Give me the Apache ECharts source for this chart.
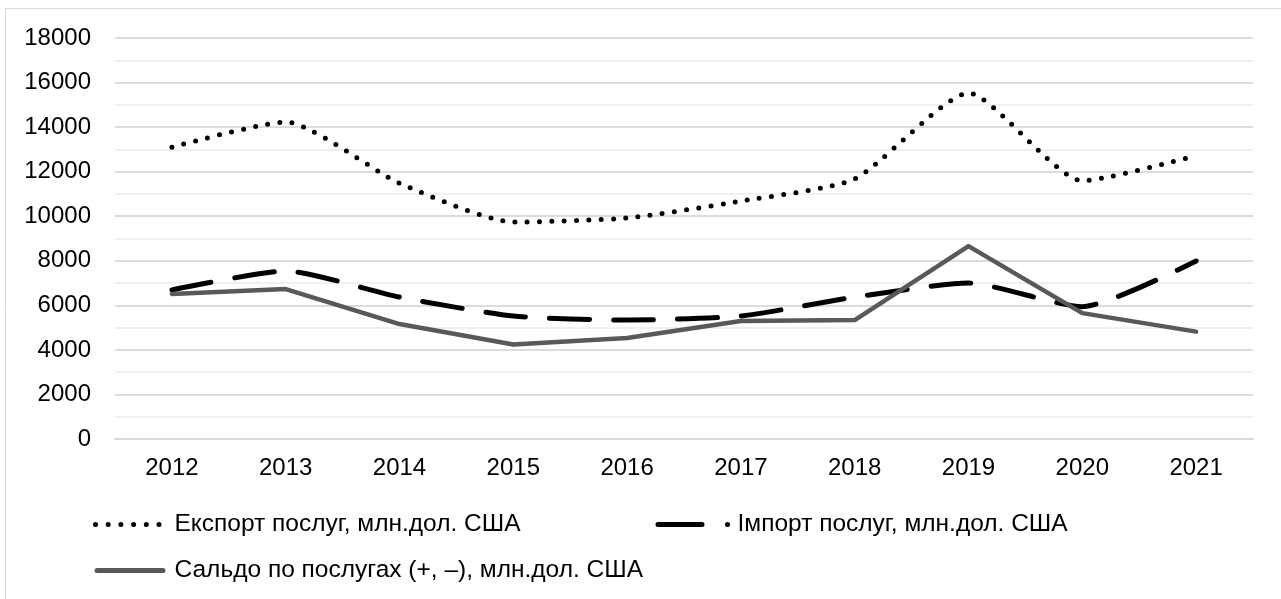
<!DOCTYPE html>
<html><head><meta charset="utf-8">
<script src="https://cdn.jsdelivr.net/npm/echarts@6/dist/echarts.min.js"></script>
<style>html,body{margin:0;padding:0;background:#fff;}#c{width:1281px;height:599px;}</style>
</head><body><div id="c"></div>
<script>
const years = ['2012','2013','2014','2015','2016','2017','2018','2019','2020','2021'];
const exportVals = [13100, 14230, 11480, 9740, 9920, 10680, 11670, 15530, 11590, 12720];
const importVals = [6690, 7540, 6370, 5520, 5340, 5520, 6370, 7000, 5940, 7990];
const saldoVals  = [6510, 6730, 5160, 4240, 4530, 5300, 5340, 8660, 5650, 4820];
const names = ['Експорт послуг, млн.дол. США','Імпорт послуг, млн.дол. США','Сальдо по послугах (+, –), млн.дол. США'];

const font = 'Liberation Sans, Arial, sans-serif';
const chart = echarts.init(document.getElementById('c'));
const legTxt = {fontFamily: font, fontSize: 24.5, color: '#000'};
const hideSym = {color: 'rgba(0,0,0,0)', borderWidth: 0, opacity: 0};
chart.setOption({
  animation: false,
  grid: {left: 115, right: 28, top: 38, bottom: 160, containLabel: false},
  graphic: [{type: 'rect', shape: {x: 5.5, y: 8.5, width: 1300, height: 620}, style: {fill: 'none', stroke: '#d9d9d9', lineWidth: 1}, silent: true}],
  xAxis: {type: 'category', data: years, boundaryGap: true,
    axisLine: {show: true, lineStyle: {color: '#d9d9d9', width: 2}}, axisTick: {show: false},
    axisLabel: {fontFamily: font, fontSize: 24, color: '#000', margin: 17}},
  yAxis: {type: 'value', min: 0, max: 18000, interval: 2000,
    axisLine: {show: false}, axisTick: {show: false},
    axisLabel: {fontFamily: font, fontSize: 24, color: '#000', margin: 24, formatter: v => String(v)},
    splitLine: {lineStyle: {color: '#dcdcdc', width: 2}},
    minorTick: {show: false, splitNumber: 2},
    minorSplitLine: {show: true, lineStyle: {color: '#f0f0f0', width: 2}}},
  legend: [
    {left: 93, top: 512, padding: 0, itemWidth: 74, itemHeight: 14, itemGap: 0, textStyle: legTxt,
      data: [{name: names[0], itemStyle: hideSym,
        lineStyle: {width: 5, color: '#000', cap: 'round', type: [0,12.7,0,12.7,0,12.7,0,12.7,0,12.7,0,60]}}]},
    {left: 655.5, top: 512, padding: 0, itemWidth: 74.5, itemHeight: 14, itemGap: 0, textStyle: legTxt,
      data: [{name: names[1], itemStyle: hideSym,
        lineStyle: {width: 5, color: '#000', cap: 'round', type: [44, 25.5, 0, 100]}}]},
    {left: 94.5, top: 558, padding: 0, itemWidth: 72.5, itemHeight: 14, itemGap: 0, textStyle: legTxt,
      data: [{name: names[2], itemStyle: hideSym,
        lineStyle: {width: 5, color: '#595959', cap: 'round', type: [66, 100]}}]}
  ],
  series: [
    {name: names[0], type: 'line', data: exportVals, smooth: 0.2, symbol: 'none',
      lineStyle: {color: '#000', width: 5, type: [0, 12.3], cap: 'round'}, itemStyle: {color: '#000'}},
    {name: names[1], type: 'line', data: importVals, smooth: 0.2, symbol: 'none',
      lineStyle: {color: '#000', width: 5, type: [40, 24], cap: 'round'}, itemStyle: {color: '#000'}},
    {name: names[2], type: 'line', data: saldoVals, smooth: false, symbol: 'none',
      lineStyle: {color: '#595959', width: 4.5, cap: 'round', join: 'round'}, itemStyle: {color: '#595959'}}
  ]
});
</script></body></html>
